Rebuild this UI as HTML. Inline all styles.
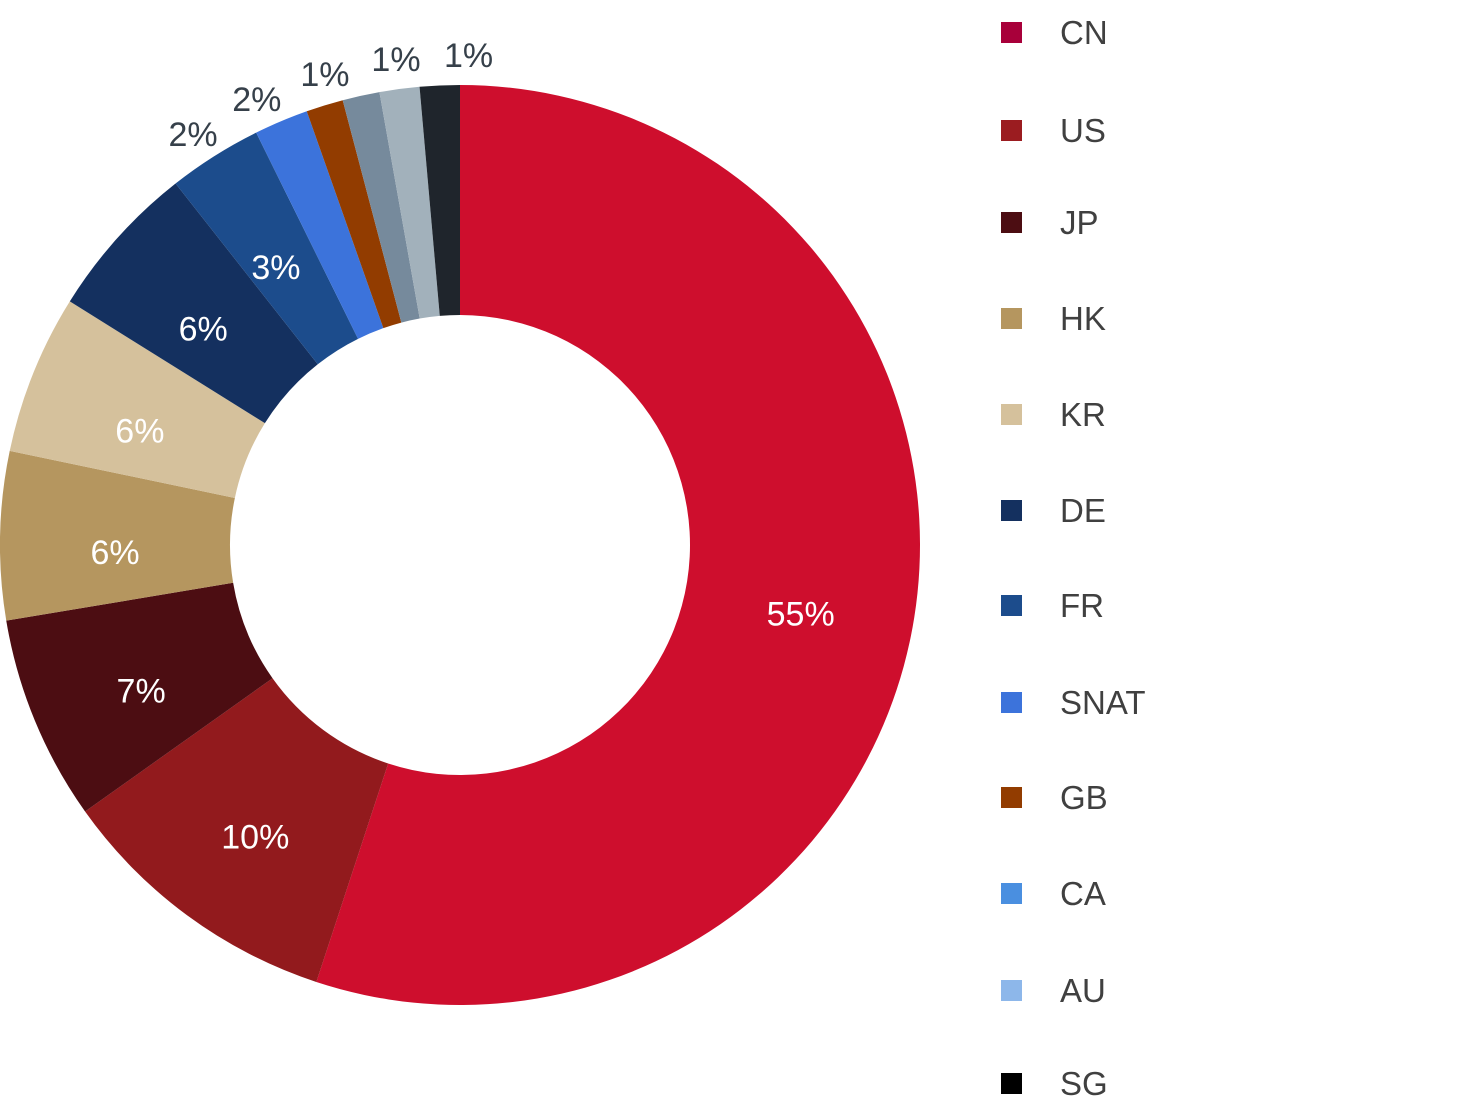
<!DOCTYPE html>
<html><head><meta charset="utf-8"><style>
html,body{margin:0;padding:0;background:#fff;}
svg{display:block;font-family:"Liberation Sans",sans-serif;}
</style></head><body>
<svg id="chart" width="1458" height="1113" viewBox="0 0 1458 1113" xmlns="http://www.w3.org/2000/svg"></svg>
<script>
const categories = ["CN","US","JP","HK","KR","DE","FR","SNAT","GB","CA","AU","SG"];
const values = [55.0,10.1,7.2,5.9,5.6,5.5,3.3,1.9,1.3,1.3,1.4,1.4];
const labels = ["55%","10%","7%","6%","6%","6%","3%","2%","2%","1%","1%","1%"];
const sliceColors = ["#CE0E2D","#921A1D","#4C0D12","#B5965F","#D5C19C","#14305F","#1C4C8C","#3C73DB","#923C00","#768A9C","#A2B1BB","#1F252C"];
const legendColors = ["#A8003A","#9B1C20","#4C0D12","#B5965F","#D5C19C","#14305F","#1C4C8C","#3C73DB","#923C00","#4A8FE0","#8DB7EA","#000000"];
const legendY = [32,130,222,318,414,510,605,702,797,893,990,1083];

const NS="http://www.w3.org/2000/svg";
const svg=document.getElementById('chart');
const cx=460, cy=545, R=460, r=230;
const total=values.reduce((a,b)=>a+b,0);
function pt(angDeg,rad){const a=angDeg*Math.PI/180;return [cx+rad*Math.sin(a), cy-rad*Math.cos(a)];}
let start=0;
const mids=[];
values.forEach((v,i)=>{
  const sweep=v/total*360, end=start+sweep;
  const [x1,y1]=pt(start,R),[x2,y2]=pt(end,R),[x3,y3]=pt(end,r),[x4,y4]=pt(start,r);
  const large=sweep>180?1:0;
  const p=document.createElementNS(NS,'path');
  p.setAttribute('d',`M${x1},${y1} A${R},${R} 0 ${large} 1 ${x2},${y2} L${x3},${y3} A${r},${r} 0 ${large} 0 ${x4},${y4} Z`);
  p.setAttribute('fill',sliceColors[i]);
  
  
  svg.appendChild(p);
  mids.push(start+sweep/2);
  start=end;
});
// labels
const outside=[];
values.forEach((v,i)=>{ if(v/total*100<2.5) outside.push(i); });
const meanOut=outside.length?outside.reduce((s,i)=>s+mids[i],0)/outside.length:0;
values.forEach((v,i)=>{
  const t=document.createElementNS(NS,'text');
  let x,y,fill;
  const oi=outside.indexOf(i);
  if(oi>=0){
    const ang=meanOut-3.5+(oi-(outside.length-1)/2)*8.5;
    [x,y]=pt(ang,490); fill='#36404A';
  } else {
    [x,y]=pt(mids[i],345); y+=14; fill='#ffffff';
  }
  t.setAttribute('x',x); t.setAttribute('y',y+12);
  t.setAttribute('text-anchor','middle');
  t.setAttribute('font-size','34');
  t.setAttribute('fill',fill);
  
  
  t.textContent=labels[i];
  svg.appendChild(t);
});
// legend
categories.forEach((c,i)=>{
  const g=document.createElementNS(NS,'g');
  
  
  const s=document.createElementNS(NS,'rect');
  s.setAttribute('x',1001); s.setAttribute('y',legendY[i]-10);
  s.setAttribute('width',21); s.setAttribute('height',21);
  s.setAttribute('fill',legendColors[i]);
  
  
  g.appendChild(s);
  const t=document.createElementNS(NS,'text');
  t.setAttribute('x',1060); t.setAttribute('y',legendY[i]+12);
  t.setAttribute('font-size','33'); t.setAttribute('fill','#404040');
  
  
  t.textContent=c;
  g.appendChild(t);
  svg.appendChild(g);
});
</script>
</body></html>
